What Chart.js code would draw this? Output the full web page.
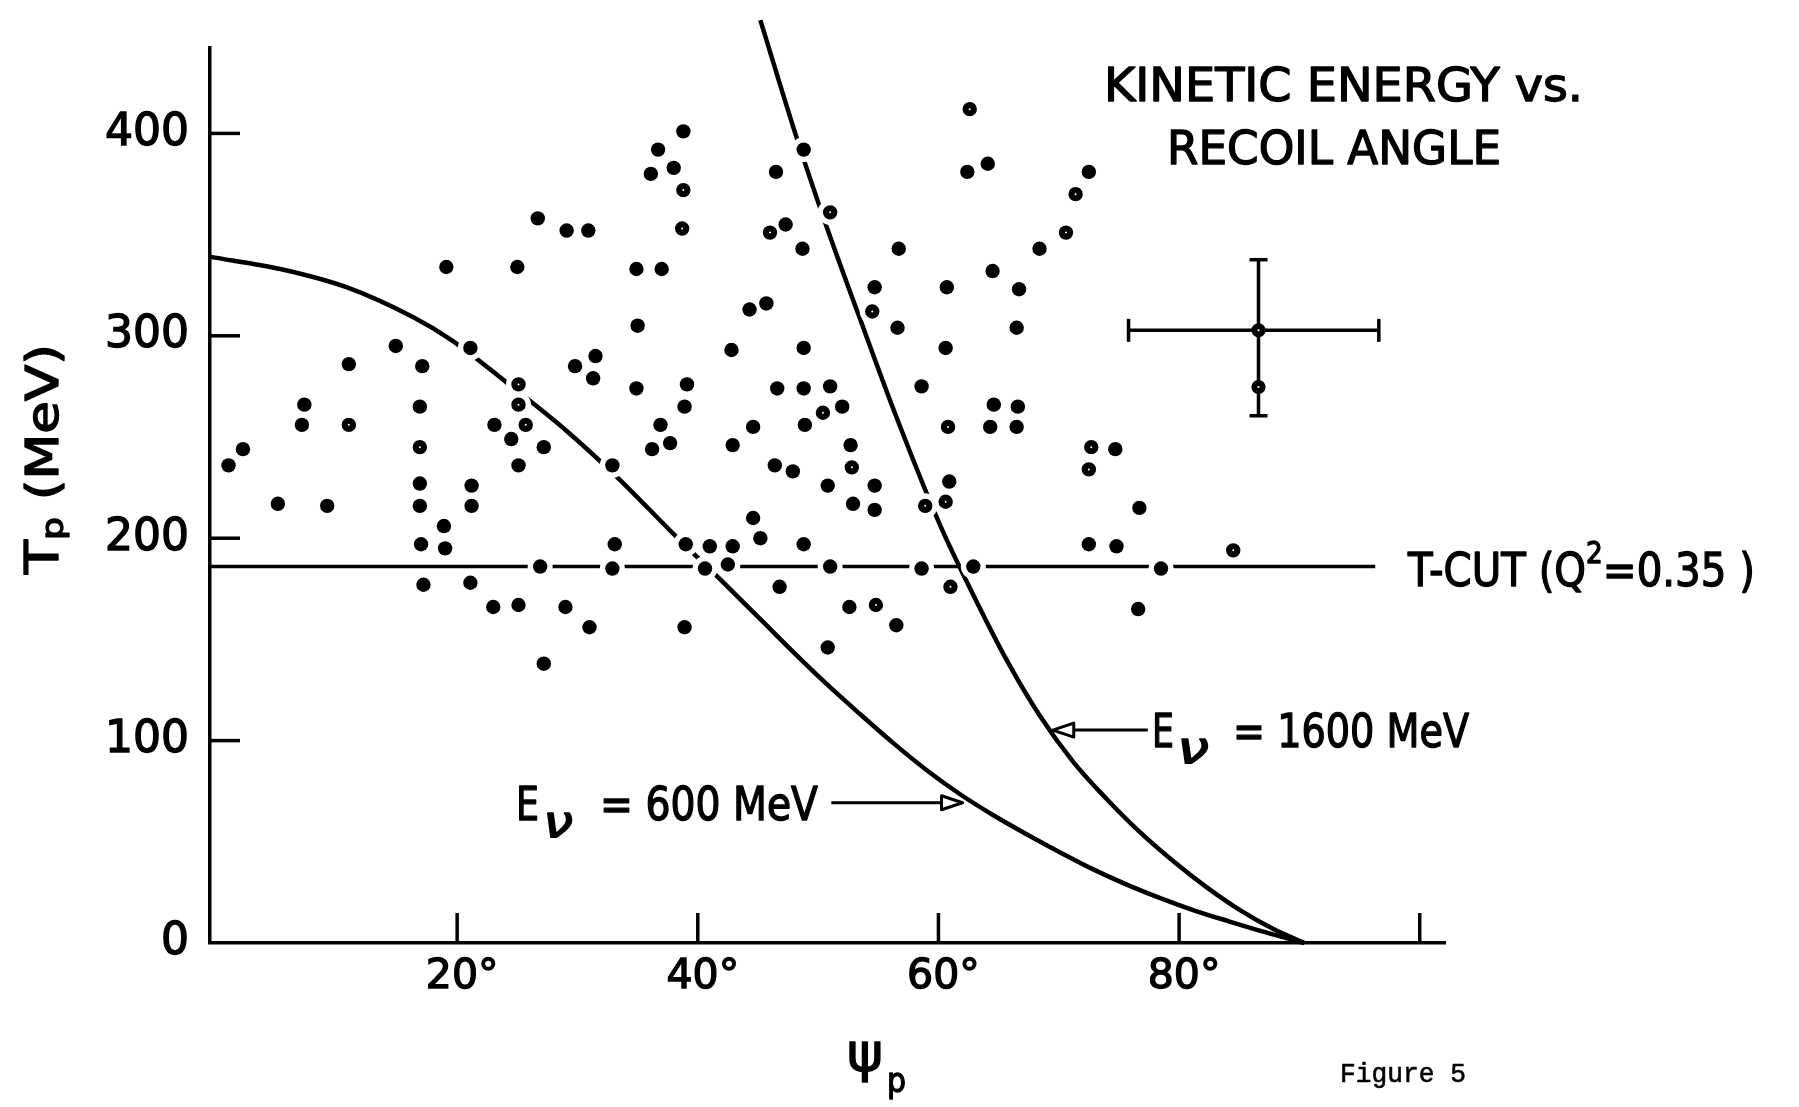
<!DOCTYPE html>
<html>
<head>
<meta charset="utf-8">
<script src="https://cdn.jsdelivr.net/npm/chart.js@4.4.1/dist/chart.umd.min.js"></script>
<style>
  html, body { margin: 0; background: #fff; }
  #wrap { position: relative; width: 1799px; height: 1107px; }
</style>
</head>
<body>
<div id="wrap"><canvas id="chart"></canvas></div>
<script>
// Recoil angle psi_p (deg) vs kinetic energy T_p (MeV)
const filledDots = [
  [26.7,358],[29.1,352],[30.9,352],[19.1,334],[25.0,334],[14.9,295],[21.1,294],[11.0,286],[17.1,285],
  [29.8,285],[31.5,290],[31.3,279],[7.3,266],[16.9,265],[7.1,256],[23.1,256],[24.5,249],[27.2,245],
  [25.1,236],[2.2,244],[1.0,236],[16.9,227],[21.2,226],[5.1,217],[9.2,216],[16.9,216],[21.2,216],
  [18.9,206],[17.0,197],[19.0,195],[26.9,186],[17.2,177],[21.1,178],[23.0,166],[25.1,167],[29.0,166],
  [31.0,156],[27.2,138],[42.9,451],[38.8,401],[36.7,392],[38.0,383],[36.1,380],[48.8,392],[46.5,381],
  [62.4,381],[64.1,385],[47.3,355],[48.7,343],[56.7,343],[64.5,332],[34.9,333],[37.0,333],[54.7,324],
  [60.7,324],[56.6,304],[64.6,266],[44.3,313],[45.7,316],[35.0,305],[42.8,293],[48.8,294],[60.6,294],
  [34.9,274],[39.1,276],[38.9,265],[46.6,274],[48.8,274],[51.0,275],[58.6,275],[52.0,265],[36.9,256],
  [37.7,247],[36.2,244],[44.6,255],[42.9,246],[48.9,256],[52.7,246],[46.4,236],[47.9,233],[50.8,226],
  [54.7,226],[52.9,217],[54.7,214],[64.3,255],[60.9,228],[32.9,236],[44.6,210],[45.2,200],[48.8,197],
  [33.1,197],[39.0,197],[41.0,196],[42.9,196],[32.9,185],[40.6,185],[42.5,187],[51.0,186],[58.6,185],
  [62.9,186],[46.8,176],[52.6,166],[56.5,157],[38.9,156],[50.8,146],[72.5,381],[68.4,343],[66.7,323],
  [66.5,304],[66.6,265],[66.5,255],[74.7,244],[76.7,215],[72.5,197],[74.8,196],[78.5,185],[76.6,165]
];
const openDots = [
  [25.1,276],[25.1,266],[11.0,256],[25.7,256],[16.9,245],[62.6,412],[38.8,372],[51.0,361],[38.7,353],
  [46.0,351],[54.5,312],[50.4,262],[52.8,235],[60.8,255],[60.6,218],[58.9,216],[61.0,176],[54.8,167],
  [71.4,370],[70.6,351],[72.7,245],[72.5,234],[84.5,194]
];
const curve600 = [
  [-0.5,339],[5.3,333],[10.8,324],[16.4,309],[19.5,298],[24.1,277],[29.1,253],[33.5,229],[38.0,202],
  [41.8,180],[45.2,160],[47.9,144],[50.7,128],[53.5,113],[56.2,99],[59.0,85.5],[61.8,73.5],[64.6,63],
  [67.4,53.5],[70.2,44.5],[73.0,36],[75.8,28.5],[78.6,21.8],[81.4,15.8],[84.2,10.6],[87.0,5.6],[90.4,0]
];
const curve1600 = [
  [45.2,456],[48.1,400],[50.7,354],[53.2,313],[56.5,260],[60.1,207],[62.9,172],[65.7,139.5],[68.4,112.5],
  [71.2,89.5],[74.0,71],[76.7,55],[79.5,40.5],[82.3,27.5],[85.0,16.5],[87.8,7],[90.4,0]
];
const tCut = [[-0.5,186],[96.3,186]];
const errBarX = [[75.8,302.7],[96.6,302.7]];
const errBarY = [[86.6,260.5],[86.6,337.6]];
const errPoints = [[86.6,302.7],[86.6,274.7]];

const xTickLabels = [20, 40, 60, 80];
const xTickMarks = [20, 40, 60, 80, 100];
const yTickLabels = [0, 100, 200, 300, 400];
const yTickMarks = [100, 200, 300, 400];

const FONT = '"DejaVu Sans", sans-serif';
const pts = (arr) => arr.map(([x, y]) => ({ x, y }));

// draw a run of text pieces squeezed to a given width, with a light stroke to thicken the lettering
function drawParts(ctx, parts, x, y, width, weight) {
    let total = 0;
    parts.forEach(p => { ctx.font = p.font; p.w = ctx.measureText(p.t).width; total += p.w; });
    const s = width ? width / total : 1;
    ctx.save();
    ctx.translate(x, y);
    ctx.scale(s, 1);
    ctx.lineWidth = weight === undefined ? 1.4 : weight;
    ctx.lineJoin = 'round';
    let cx = 0;
    parts.forEach(p => {
        ctx.font = p.font;
        ctx.fillText(p.t, cx, p.dy || 0);
        if (ctx.lineWidth > 0) ctx.strokeText(p.t, cx, p.dy || 0);
        cx += p.w;
    });
    ctx.restore();
}

function arrow(ctx, xs, ys, from, to) {
    const x0 = xs.getPixelForValue(from[0]), y0 = ys.getPixelForValue(from[1]);
    const x1 = xs.getPixelForValue(to[0]), y1 = ys.getPixelForValue(to[1]);
    const dir = Math.sign(x1 - x0);
    const head = 21, half = 7;
    ctx.beginPath();
    ctx.moveTo(x0, y0);
    ctx.lineTo(x1 - dir * head, y1);
    ctx.stroke();
    ctx.beginPath();
    ctx.moveTo(x1, y1);
    ctx.lineTo(x1 - dir * head, y1 - half);
    ctx.lineTo(x1 - dir * head, y1 + half);
    ctx.closePath();
    ctx.stroke();
}

const inwardTicks = {
    id: 'inwardTicks',
    afterDraw(chart) {
        const { ctx, chartArea: a, scales: { x, y } } = chart;
        ctx.save();
        ctx.strokeStyle = '#000';
        ctx.lineWidth = 3.5;
        yTickMarks.forEach(v => {
            const py = y.getPixelForValue(v);
            ctx.beginPath(); ctx.moveTo(a.left, py); ctx.lineTo(a.left + 30, py); ctx.stroke();
        });
        xTickMarks.forEach(v => {
            const px = x.getPixelForValue(v);
            ctx.beginPath(); ctx.moveTo(px, a.bottom); ctx.lineTo(px, a.bottom - 30); ctx.stroke();
        });
        ctx.restore();
    }
};

const annotations = {
    id: 'annotations',
    afterDraw(chart) {
        const { ctx, scales: { x, y } } = chart;
        ctx.save();
        ctx.fillStyle = '#000';
        ctx.strokeStyle = '#000';
        ctx.textBaseline = 'alphabetic';
        ctx.textAlign = 'left';

        // title
        drawParts(ctx, [{ t: 'KINETIC ENERGY vs.', font: `46px ${FONT}` }], 1104, 101, 479);
        drawParts(ctx, [{ t: 'RECOIL ANGLE', font: `46px ${FONT}` }], 1167, 164, 334);

        // T-cut label
        drawParts(ctx, [
            { t: 'T-CUT (Q', font: `46px ${FONT}` },
            { t: '2', font: `30px ${FONT}`, dy: -23 },
            { t: '=0.35 )', font: `46px ${FONT}` }
        ], 1408, 586, 347);

        // curve labels
        drawParts(ctx, [{ t: 'E', font: `46px ${FONT}` }], 516, 820, 23);
        drawParts(ctx, [{ t: 'ν', font: `italic 44px ${FONT}` }], 543, 837, 30);
        drawParts(ctx, [{ t: '= 600 MeV', font: `46px ${FONT}` }], 600, 820, 218);

        drawParts(ctx, [{ t: 'E', font: `46px ${FONT}` }], 1152, 747, 22);
        drawParts(ctx, [{ t: 'ν', font: `italic 44px ${FONT}` }], 1177, 763, 32);
        drawParts(ctx, [{ t: '= 1600 MeV', font: `46px ${FONT}` }], 1233, 747, 236);

        ctx.lineWidth = 3;
        ctx.lineJoin = 'round';
        arrow(ctx, x, y, [51.1, 69.3], [62.0, 69.3]);
        arrow(ctx, x, y, [77.4, 105.2], [69.5, 105.2]);

        // axis titles
        drawParts(ctx, [{ t: 'ψ', font: `54px ${FONT}` }], 847, 1071, 36);
        drawParts(ctx, [{ t: 'p', font: `34px ${FONT}` }], 887, 1092, 19);

        ctx.save();
        ctx.translate(58, 574);
        ctx.rotate(-Math.PI / 2);
        drawParts(ctx, [
            { t: 'T', font: `46px ${FONT}` },
            { t: 'p', font: `30px ${FONT}`, dy: 5 },
            { t: ' (MeV)', font: `44px ${FONT}` }
        ], 0, 0, 230);
        ctx.restore();

        drawParts(ctx, [{ t: 'Figure 5', font: '27px "Liberation Mono", monospace' }], 1340, 1082, 126, 0.6);
        ctx.restore();
    }
};

const lineSet = (data, width, extra) => Object.assign({
    data: pts(data),
    showLine: true,
    borderColor: '#000',
    borderWidth: width,
    pointRadius: 0,
    fill: false,
    order: 5,
    clip: false
}, extra || {});

new Chart(document.getElementById('chart'), {
    type: 'scatter',
    data: {
        datasets: [
            lineSet(curve600, 4.5, { label: 'E = 600 MeV', cubicInterpolationMode: 'monotone' }),
            lineSet(curve1600, 4.5, { label: 'E = 1600 MeV', cubicInterpolationMode: 'monotone' }),
            lineSet(tCut, 3.5, { label: 'T-cut' }),
            lineSet(errBarX, 3.5, { label: 'err x', pointStyle: 'line', pointRotation: 90, pointRadius: 11.5, pointBorderWidth: 3.5, pointBorderColor: '#000' }),
            lineSet(errBarY, 3.5, { label: 'err y', pointStyle: 'line', pointRotation: 0, pointRadius: 9, pointBorderWidth: 3.5, pointBorderColor: '#000' }),
            {
                label: 'halo', data: pts(filledDots.concat(openDots)), order: 4, clip: false,
                pointRadius: 12.5, pointBackgroundColor: '#fff', pointBorderWidth: 0
            },
            {
                label: 'events', data: pts(filledDots), order: 3, clip: false,
                pointRadius: 7.2, pointBackgroundColor: '#000', pointBorderWidth: 0
            },
            {
                label: 'events (open)', data: pts(openDots), order: 2, clip: false,
                pointRadius: 4.1, pointBackgroundColor: '#fff', pointBorderColor: '#000', pointBorderWidth: 6.2
            },
            {
                label: 'sample', data: pts(errPoints), order: 1, clip: false,
                pointRadius: 4.1, pointBackgroundColor: '#fff', pointBorderColor: '#000', pointBorderWidth: 6
            }
        ]
    },
    options: {
        responsive: true,
        maintainAspectRatio: false,
        devicePixelRatio: 1,
        animation: false,
        events: [],
        layout: { padding: { left: 0, right: 354, top: 47, bottom: 0 } },
        plugins: { legend: { display: false }, tooltip: { enabled: false } },
        scales: {
            x: {
                type: 'linear',
                min: -0.54,
                max: 102.1,
                grid: { display: false, drawTicks: false },
                border: { display: true, color: '#000', width: 3.5 },
                afterBuildTicks: (scale) => { scale.ticks = xTickLabels.map(v => ({ value: v })); },
                afterFit: (scale) => { scale.height = 164; },
                ticks: {
                    autoSkip: false,
                    maxRotation: 0,
                    padding: 10,
                    labelOffset: 5,
                    color: '#000',
                    textStrokeColor: '#000',
                    textStrokeWidth: 1.4,
                    font: { family: FONT, size: 41 },
                    callback: (v) => v + '°'
                }
            },
            y: {
                type: 'linear',
                min: 0,
                max: 442.5,
                grid: { display: false, drawTicks: false },
                border: { display: true, color: '#000', width: 3.5 },
                afterBuildTicks: (scale) => { scale.ticks = yTickLabels.map(v => ({ value: v })); },
                afterFit: (scale) => { scale.width = 210; },
                ticks: {
                    padding: 21,
                    color: '#000',
                    textStrokeColor: '#000',
                    textStrokeWidth: 1.4,
                    font: { family: FONT, size: 44 },
                    callback: (v) => String(v)
                }
            }
        }
    },
    plugins: [inwardTicks, annotations]
});
</script>
</body>
</html>
